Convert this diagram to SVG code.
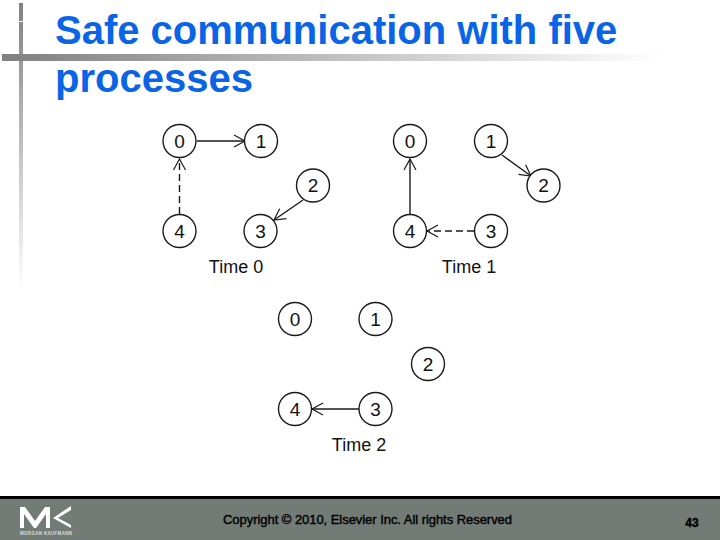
<svg xmlns="http://www.w3.org/2000/svg" width="720" height="540" viewBox="0 0 720 540">
<defs>
<linearGradient id="h" x1="0" x2="1" y1="0" y2="0"><stop offset="0" stop-color="#808080"/><stop offset="1" stop-color="#ffffff"/></linearGradient>
<linearGradient id="v" x1="0" x2="0" y1="0" y2="1"><stop offset="0" stop-color="#808080"/><stop offset="1" stop-color="#ffffff"/></linearGradient>
<marker id="a" markerUnits="userSpaceOnUse" markerWidth="16" markerHeight="16" refX="13" refY="8" orient="auto"><path d="M2 2L13 8L2 14" fill="none" stroke="#1a1a1a" stroke-width="1.200"/></marker>
</defs>
<style>
.n{fill:#fff;stroke:#1a1a1a;stroke-width:1.400}
.l{font:19px "Liberation Sans",Arial,sans-serif;fill:#111;text-anchor:middle}
.t{font:18px "Liberation Sans",Arial,sans-serif;fill:#111;text-anchor:middle}
.c{fill:none;stroke:#1a1a1a;stroke-width:1.400;marker-end:url(#a)}
.d{stroke-dasharray:7 4}
.h{font:bold 40px "Liberation Sans",Arial,sans-serif;fill:#0a64e6}
.f{font-family:"Liberation Sans",Arial,sans-serif;fill:#000;stroke:#000;stroke-width:.4}
</style>
<rect width="720" height="540" fill="#fff"/>
<g id="decor">
<rect x="19" y="3" width="4" height="287" fill="url(#v)"/>
<rect x="19" y="21" width="4" height="1" fill="#fff"/>
<rect x="2" y="54" width="660" height="7" fill="url(#h)"/>
<rect x="0" y="496" width="720" height="44" fill="#727b76"/>
<rect x="0" y="496" width="720" height="3" fill="#000"/>
<path d="M20 528V507H25L35 521L45 507H50V528H46V514L36 528H34L24 514V528Z" fill="#fff"/>
<path d="M71 506L53 518L71 528V525L58 518L71 510Z" fill="#fff"/>
<text x="20" y="535" font-family="'Liberation Sans',Arial,sans-serif" font-size="4.500" font-weight="bold" fill="#d8dcd9" textLength="52">MORGAN KAUFMANN</text>
</g>
<text class="h" x="55" y="44">Safe communication with five</text>
<text class="h" x="55" y="92">processes</text>
<g id="connectors">
<path class="c" d="M197 141H245"/>
<path class="c d" d="M179.500 214V159"/>
<path class="c" d="M303 200L274 220"/>
<path class="c" d="M410 214V159"/>
<path class="c" d="M502 155L531 176"/>
<path class="c d" d="M474 231H427"/>
<path class="c" d="M359 409H312"/>
</g>
<g id="t0-0"><circle class="n" cx="179.500" cy="141" r="16.500"/><text class="l" x="179.500" y="147.500">0</text></g>
<g id="t0-1"><circle class="n" cx="261" cy="141" r="16.500"/><text class="l" x="261" y="147.500">1</text></g>
<g id="t0-2"><circle class="n" cx="313" cy="185.500" r="16.500"/><text class="l" x="313" y="192">2</text></g>
<g id="t0-3"><circle class="n" cx="260.500" cy="231" r="16.500"/><text class="l" x="260.500" y="237.500">3</text></g>
<g id="t0-4"><circle class="n" cx="179.500" cy="231" r="16.500"/><text class="l" x="179.500" y="237.500">4</text></g>
<text class="t" x="236" y="273">Time 0</text>
<g id="t1-0"><circle class="n" cx="410" cy="141" r="16.500"/><text class="l" x="410" y="147.500">0</text></g>
<g id="t1-1"><circle class="n" cx="491" cy="141" r="16.500"/><text class="l" x="491" y="147.500">1</text></g>
<g id="t1-2"><circle class="n" cx="543.500" cy="185.500" r="16.500"/><text class="l" x="543.500" y="192">2</text></g>
<g id="t1-3"><circle class="n" cx="491" cy="231" r="16.500"/><text class="l" x="491" y="237.500">3</text></g>
<g id="t1-4"><circle class="n" cx="410" cy="231" r="16.500"/><text class="l" x="410" y="237.500">4</text></g>
<text class="t" x="469" y="273">Time 1</text>
<g id="t2-0"><circle class="n" cx="295" cy="319" r="16.500"/><text class="l" x="295" y="325.500">0</text></g>
<g id="t2-1"><circle class="n" cx="375.500" cy="319" r="16.500"/><text class="l" x="375.500" y="325.500">1</text></g>
<g id="t2-2"><circle class="n" cx="428" cy="364" r="16.500"/><text class="l" x="428" y="370.500">2</text></g>
<g id="t2-3"><circle class="n" cx="375.500" cy="409" r="16.500"/><text class="l" x="375.500" y="415.500">3</text></g>
<g id="t2-4"><circle class="n" cx="295" cy="409" r="16.500"/><text class="l" x="295" y="415.500">4</text></g>
<text class="t" x="359" y="451">Time 2</text>
<text class="f" x="367.500" y="524" text-anchor="middle" font-size="13" textLength="289">Copyright © 2010, Elsevier Inc. All rights Reserved</text>
<text class="f" x="692" y="527" text-anchor="middle" font-size="12" font-weight="bold">43</text>
</svg>
